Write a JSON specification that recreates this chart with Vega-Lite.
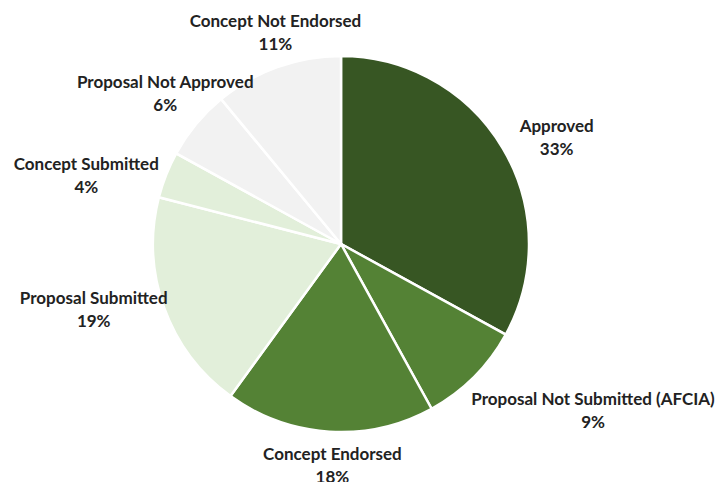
{
  "$schema": "https://vega.github.io/schema/vega-lite/v6.json",
  "autosize": "none",
  "width": 682,
  "height": 476,
  "padding": {"left": 0, "right": 37, "top": 6, "bottom": 0},
  "background": "white",
  "data": {
    "values": [
      {"rank": 1, "status": "Approved", "value": 33, "label": "Approved\n33%"},
      {"rank": 2, "status": "Proposal Not Submitted (AFCIA)", "value": 9, "label": "Proposal Not Submitted (AFCIA)\n9%"},
      {"rank": 3, "status": "Concept Endorsed", "value": 18, "label": "Concept Endorsed\n18%"},
      {"rank": 4, "status": "Proposal Submitted", "value": 19, "label": "Proposal Submitted\n19%"},
      {"rank": 5, "status": "Concept Submitted", "value": 4, "label": "Concept Submitted\n4%"},
      {"rank": 6, "status": "Proposal Not Approved", "value": 6, "label": "Proposal Not Approved\n6%"},
      {"rank": 7, "status": "Concept Not Endorsed", "value": 11, "label": "Concept Not Endorsed\n11%"}
    ]
  },
  "encoding": {
    "theta": {"field": "value", "type": "quantitative", "stack": true},
    "order": {"field": "rank", "type": "quantitative"}
  },
  "layer": [
    {
      "mark": {"type": "arc", "outerRadius": 188, "stroke": "white", "strokeWidth": 2.5},
      "encoding": {
        "color": {
          "field": "status",
          "type": "nominal",
          "sort": null,
          "legend": null,
          "scale": {
            "domain": ["Approved", "Proposal Not Submitted (AFCIA)", "Concept Endorsed", "Proposal Submitted", "Concept Submitted", "Proposal Not Approved", "Concept Not Endorsed"],
            "range": ["#375623", "#548235", "#548235", "#E2EFDA", "#E2EFDA", "#F2F2F2", "#F2F2F2"]
          }
        }
      }
    },
    {
      "mark": {"type": "text", "radius": 232, "dx": 16, "dy": 1, "font": "Lato", "fontWeight": "bold", "fontSize": 17, "lineBreak": "\n", "lineHeight": 23, "baseline": "middle", "align": "center", "color": "#222222"},
      "encoding": {"text": {"condition": {"test": "datum.status === 'Approved'", "field": "label"}, "value": ""}}
    },
    {
      "mark": {"type": "text", "radius": 232, "dx": 88, "dy": -8, "font": "Lato", "fontWeight": "bold", "fontSize": 17, "lineBreak": "\n", "lineHeight": 23, "baseline": "middle", "align": "center", "color": "#222222"},
      "encoding": {"text": {"condition": {"test": "datum.status === 'Proposal Not Submitted (AFCIA)'", "field": "label"}, "value": ""}}
    },
    {
      "mark": {"type": "text", "radius": 232, "dx": 6, "dy": -21, "font": "Lato", "fontWeight": "bold", "fontSize": 17, "lineBreak": "\n", "lineHeight": 23, "baseline": "middle", "align": "center", "color": "#222222"},
      "encoding": {"text": {"condition": {"test": "datum.status === 'Concept Endorsed'", "field": "label"}, "value": ""}}
    },
    {
      "mark": {"type": "text", "radius": 232, "dx": -29, "dy": -24, "font": "Lato", "fontWeight": "bold", "fontSize": 17, "lineBreak": "\n", "lineHeight": 23, "baseline": "middle", "align": "center", "color": "#222222"},
      "encoding": {"text": {"condition": {"test": "datum.status === 'Proposal Submitted'", "field": "label"}, "value": ""}}
    },
    {
      "mark": {"type": "text", "radius": 232, "dx": -39, "dy": 6, "font": "Lato", "fontWeight": "bold", "fontSize": 17, "lineBreak": "\n", "lineHeight": 23, "baseline": "middle", "align": "center", "color": "#222222"},
      "encoding": {"text": {"condition": {"test": "datum.status === 'Concept Submitted'", "field": "label"}, "value": ""}}
    },
    {
      "mark": {"type": "text", "radius": 232, "dx": 3, "dy": -13, "font": "Lato", "fontWeight": "bold", "fontSize": 17, "lineBreak": "\n", "lineHeight": 23, "baseline": "middle", "align": "center", "color": "#222222"},
      "encoding": {"text": {"condition": {"test": "datum.status === 'Proposal Not Approved'", "field": "label"}, "value": ""}}
    },
    {
      "mark": {"type": "text", "radius": 232, "dx": 13, "dy": -4, "font": "Lato", "fontWeight": "bold", "fontSize": 17, "lineBreak": "\n", "lineHeight": 23, "baseline": "middle", "align": "center", "color": "#222222"},
      "encoding": {"text": {"condition": {"test": "datum.status === 'Concept Not Endorsed'", "field": "label"}, "value": ""}}
    }
  ]
}
